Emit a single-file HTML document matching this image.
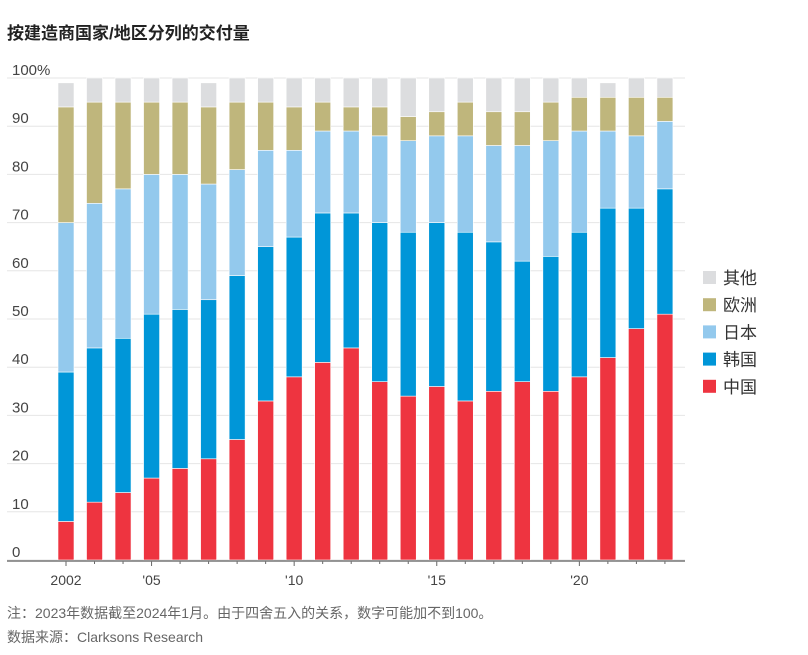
<!DOCTYPE html>
<html><head><meta charset="utf-8">
<style>
body{margin:0;background:#fff;width:808px;height:655px;overflow:hidden;font-family:"Liberation Sans","Noto Sans CJK SC",sans-serif;}
#title{position:absolute;left:7px;top:19px;font-size:17px;font-weight:bold;color:#222;}
.note{position:absolute;left:7px;font-size:14px;color:#666;}
</style></head><body>
<div id="title">按建造商国家/地区分列的交付量</div>
<svg id="chart" width="808" height="655" style="position:absolute;left:0;top:0"></svg>
<div class="note" style="top:603px">注：2023年数据截至2024年1月。由于四舍五入的关系，数字可能加不到100。</div>
<div class="note" style="top:627px">数据来源：Clarksons Research</div>
<script>
const years=[2002,2003,2004,2005,2006,2007,2008,2009,2010,2011,2012,2013,2014,2015,2016,2017,2018,2019,2020,2021,2022,2023];
const china =[8,12,14,17,19,21,25,33,38,41,44,37,34,36,33,35,37,35,38,42,48,51];
const korea =[31,32,32,34,33,33,34,32,29,31,28,33,34,34,35,31,25,28,30,31,25,26];
const japan =[31,30,31,29,28,24,22,20,18,17,17,18,19,18,20,20,24,24,21,16,15,14];
const europe=[24,21,18,15,15,16,14,10,9,6,5,6,5,5,7,7,7,8,7,7,8,5];
const other =[5,5,5,5,5,5,5,5,6,5,6,6,8,7,5,7,7,5,4,3,4,4];
const yTicks=[0,10,20,30,40,50,60,70,80,90,100];
const xLabels={2002:"2002",2005:"'05",2010:"'10",2015:"'15",2020:"'20"};
const seriesNames=["中国","韩国","日本","欧洲","其他"];
const colors=["#ee3440","#0096d8","#93c9ed","#bfb67c","#dcdddf"];

const NS="http://www.w3.org/2000/svg";
const svg=document.getElementById('chart');
const y0=560,y100=78,xL=52,xR=685;
const yS=v=>y0-(v/100)*(y0-y100);
const xS=yr=>66+(yr-2002)*28.52;
const bw=16;
function mk(t,a){const e=document.createElementNS(NS,t);for(const k in a)e.setAttribute(k,a[k]);svg.appendChild(e);return e;}
yTicks.forEach(v=>{
  const g=mk('line',{x1:xL-45,x2:xR,y1:yS(v),y2:yS(v),stroke:'#e6e6e6','stroke-width':1});
  
  
  const t=mk('text',{x:12,y:yS(v)-3,'font-size':15,fill:'#444'});
  t.textContent=v===100?'100%':v;
  
  
});
const series=[china,korea,japan,europe,other];
years.forEach((yr,i)=>{
  let base=0;
  series.forEach((s,k)=>{
    const r=mk('rect',{x:xS(yr)-bw/2,y:yS(base+s[i]),width:bw,height:yS(base)-yS(base+s[i]),fill:colors[k],stroke:'#fff','stroke-width':0.6});
    
    
    base+=s[i];
  });
  const tk=mk('line',{x1:xS(yr),x2:xS(yr),y1:y0+1,y2:y0+(xLabels[yr]?6:4),stroke:'#666','stroke-width':1});
  
  
  if(xLabels[yr]){
    const t=mk('text',{x:xS(yr),y:y0+25,'font-size':14,fill:'#444','text-anchor':'middle'});
    t.textContent=xLabels[yr];
    
    
  }
});
const ax=mk('line',{x1:xL-45,x2:xR,y1:y0+1,y2:y0+1,stroke:'#777','stroke-width':1.5});


[4,3,2,1,0].forEach((k,j)=>{
  const cy=278+j*27.2;
  const r=mk('rect',{x:703,y:cy-7,width:13,height:13,fill:colors[k]});
  
  
  const t=mk('text',{x:723,y:cy+6,'font-size':17,fill:'#333'});
  t.textContent=seriesNames[k];
  
  
});
</script>
</body></html>
